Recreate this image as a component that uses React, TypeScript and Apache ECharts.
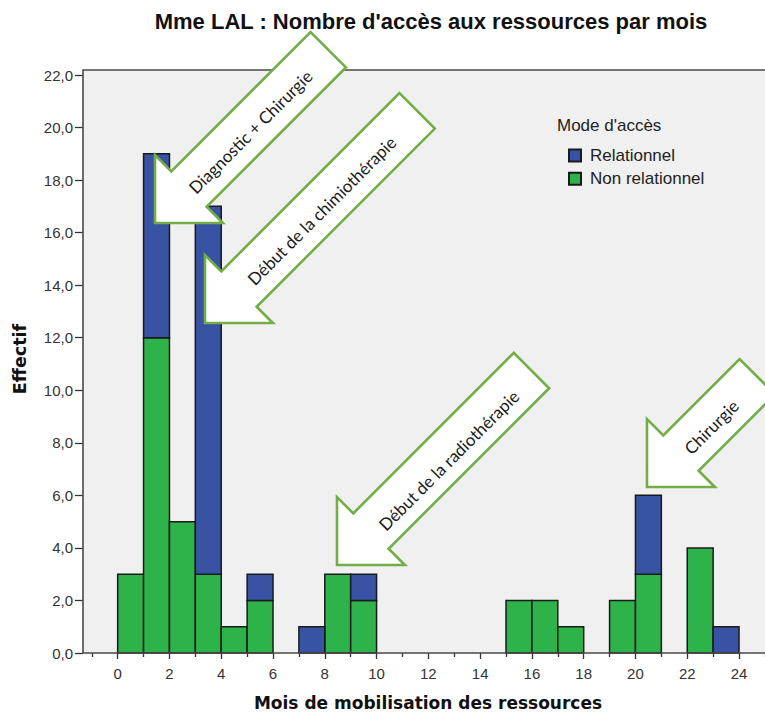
import React, { useEffect, useRef } from "react";
import * as echarts from "echarts";

// Histogram bins: start month of each 1-month bin
const months = [0, 1, 2, 3, 4, 5, 7, 8, 9, 15, 16, 17, 19, 20, 22, 23];
const nonRelationnel = [3, 12, 5, 3, 1, 2, 0, 3, 2, 2, 2, 1, 2, 3, 4, 0];
const relationnel = [0, 7, 0, 14, 0, 1, 1, 0, 1, 0, 0, 0, 0, 3, 0, 1];

const titleText = "Mme LAL : Nombre d'accès aux ressources par mois";
const xName = "Mois de mobilisation des ressources";
const yName = "Effectif";
const legendTitle = "Mode d'accès";
const seriesNames = ["Relationnel", "Non relationnel"];

const arrowLabels = [
  "Diagnostic + Chirurgie",
  "Début de la chimiothérapie",
  "Début de la radiothérapie",
  "Chirurgie",
];

const GREEN = "#2eb34a";
const BLUE = "#3953a4";
const ARROW_GREEN = "#72ad48";

// arrow layout: tip point, total length, label distance from tip, perpendicular offset
const arrowLayout = [
  { tip: [155, 223], len: 245, d: 132, o: 3 },
  { tip: [205, 323], len: 300, d: 162, o: 3 },
  { tip: [337, 565], len: 275, d: 153, o: 5 },
  { tip: [647, 487], len: 156, d: 88, o: 3 },
];

function arrowPoints(tip: number[], L: number) {
  const s = Math.SQRT1_2;
  const u = [s, -s];
  const v = [s, s];
  const h = 48, hw = 48, sw = 25;
  const P = (a: number, b: number) => [tip[0] + a * u[0] + b * v[0], tip[1] + a * u[1] + b * v[1]];
  return [P(0, 0), P(h, -hw), P(h, -sw), P(L, -sw), P(L, sw), P(h, sw), P(h, hw)];
}

function labelPos(tip: number[], d: number, o: number) {
  const s = Math.SQRT1_2;
  return [tip[0] + d * s + o * s, tip[1] - d * s + o * s];
}

function makeRender(color: string) {
  return (params: any, api: any) => {
    const x0 = api.value(0);
    const lo = api.value(1);
    const hi = api.value(2);
    if (!(hi > lo)) return null;
    const a = api.coord([x0, lo]);
    const b = api.coord([x0 + 1, hi]);
    return {
      type: "rect",
      shape: { x: a[0], y: b[1], width: b[0] - a[0], height: a[1] - b[1] },
      style: { fill: color, stroke: "#1a1a1a", lineWidth: 1.5 },
    };
  };
}

const FONT = "'Liberation Sans', Arial, sans-serif";

export default function App() {
  const ref = useRef<HTMLDivElement>(null);
  useEffect(() => {
    if (!ref.current) return;
    const chart = echarts.init(ref.current, null, { renderer: "svg" });

    const greenData = months.map((m, i) => [m, 0, nonRelationnel[i]]);
    const blueData = months.map((m, i) => [m, nonRelationnel[i], nonRelationnel[i] + relationnel[i]]);

    const gridLeft = 65.9;
    const gridTop = 75;
    const gridHeight = 578;
    const gridWidth = 724.9;

    const graphics: any[] = [
      {
        type: "rect",
        z: -10,
        shape: { x: 83, y: 70, width: 720, height: 583 },
        style: { fill: "#f0f0f0", stroke: "none" },
      },
      {
        type: "rect",
        z: 20,
        shape: { x: 83, y: 70, width: 720, height: 583 },
        style: { fill: "none", stroke: "#4a4a4a", lineWidth: 1.6 },
      },
      {
        type: "rect",
        z: 1,
        shape: { x: 61, y: 654.5, width: 10, height: 8 },
        style: { fill: "#ffffff" },
      },
      {
        type: "text",
        x: 431,
        y: 21,
        style: {
          text: titleText,
          align: "center",
          verticalAlign: "middle",
          font: "bold 22px 'Liberation Sans', Arial, sans-serif",
          fill: "#111",
        },
      },
      {
        type: "text",
        x: 428,
        y: 703,
        style: {
          text: xName,
          align: "center",
          verticalAlign: "middle",
          font: "bold 17px 'DejaVu Sans', sans-serif",
          fill: "#111",
        },
      },
      {
        type: "text",
        x: 20,
        y: 359,
        rotation: Math.PI / 2,
        style: {
          text: yName,
          align: "center",
          verticalAlign: "middle",
          font: "bold 17.5px 'DejaVu Sans', sans-serif",
          fill: "#111",
        },
      },
      {
        type: "text",
        x: 557,
        y: 125,
        style: {
          text: legendTitle,
          align: "left",
          verticalAlign: "middle",
          font: "17px 'Liberation Sans', Arial, sans-serif",
          fill: "#222",
        },
      },
    ];

    arrowLayout.forEach((a, i) => {
      graphics.push({
        type: "polygon",
        z: 100,
        shape: { points: arrowPoints(a.tip, a.len) },
        style: { fill: "#ffffff", stroke: ARROW_GREEN, lineWidth: 2.6, lineJoin: "miter" },
      });
      const p = labelPos(a.tip, a.d, a.o);
      graphics.push({
        type: "text",
        z: 101,
        x: p[0],
        y: p[1],
        rotation: Math.PI / 4,
        style: {
          text: arrowLabels[i],
          align: "center",
          verticalAlign: "middle",
          font: "17px Lato, 'Open Sans', sans-serif",
          fill: "#1a1a1a",
        },
      });
    });

    chart.setOption({
      animation: false,
      backgroundColor: "#ffffff",
      grid: [
        { left: gridLeft, top: gridTop, width: gridWidth, height: gridHeight, containLabel: false },
        { left: 83, top: gridTop, width: 600, height: gridHeight, containLabel: false },
      ],
      legend: {
        data: seriesNames,
        orient: "vertical",
        left: 568,
        top: 147,
        padding: 0,
        itemWidth: 12,
        itemHeight: 12,
        itemGap: 6.3,
        icon: "rect",
        textStyle: { fontSize: 17, fontFamily: FONT, color: "#222", padding: [0, 0, 0, 4] },
      },
      xAxis: [
        {
          type: "value",
          gridIndex: 0,
          min: -2,
          max: 26,
          interval: 2,
          z: 0,
          axisLine: { show: false },
          splitLine: { show: false },
          axisTick: { show: true, length: 6, lineStyle: { color: "#333", width: 1.3 } },
          minorTick: { show: true, splitNumber: 2, length: 4, lineStyle: { color: "#333", width: 1.3 } },
          axisLabel: {
            margin: 13,
            fontSize: 15,
            fontFamily: FONT,
            color: "#333",
            formatter: (v: number) => (v < 0 || v > 24 ? "" : String(v)),
          },
        },
        {
          type: "value",
          gridIndex: 1,
          min: 0,
          max: 1,
          show: false,
        },
      ],
      yAxis: [
        {
          type: "value",
          gridIndex: 0,
          min: 0,
          max: 22,
          show: false,
        },
        {
          type: "value",
          gridIndex: 1,
          min: 0,
          max: 22,
          interval: 2,
          z: 5,
          axisLine: { show: false },
          splitLine: { show: false },
          axisTick: { show: true, length: 8, lineStyle: { color: "#333", width: 1.3 } },
          axisLabel: {
            margin: 10,
            fontSize: 15,
            fontFamily: FONT,
            color: "#333",
            formatter: (v: number) => v.toFixed(1).replace(".", ","),
          },
        },
      ],
      series: [
        {
          name: "Non relationnel",
          type: "custom",
          xAxisIndex: 0,
          yAxisIndex: 0,
          renderItem: makeRender(GREEN),
          encode: { x: 0, y: [1, 2] },
          itemStyle: { color: GREEN, borderColor: "#1a1a1a", borderWidth: 1 },
          data: greenData,
          z: 5,
        },
        {
          name: "Relationnel",
          type: "custom",
          xAxisIndex: 0,
          yAxisIndex: 0,
          renderItem: makeRender(BLUE),
          encode: { x: 0, y: [1, 2] },
          itemStyle: { color: BLUE, borderColor: "#1a1a1a", borderWidth: 1 },
          data: blueData,
          z: 5,
        },
      ],
      graphic: graphics,
    });

    return () => chart.dispose();
  }, []);

  return (
    <div style={{ width: 765, height: 715, overflow: "hidden", position: "absolute", left: 0, top: 0 }}>
      <div ref={ref} style={{ width: 820, height: 715 }} />
    </div>
  );
}
